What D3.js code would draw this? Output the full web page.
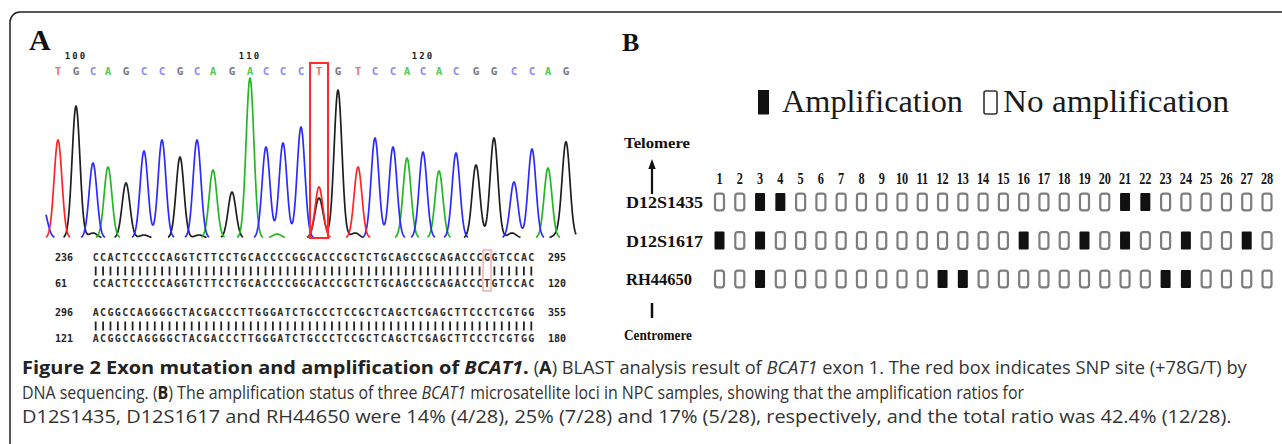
<!DOCTYPE html>
<html><head><meta charset="utf-8">
<script src="https://cdn.jsdelivr.net/npm/d3@7/dist/d3.min.js"></script>
<style>body{margin:0;background:#fff;} svg{display:block;} text{white-space:pre;}</style>
</head><body>
<svg id="c" width="1282" height="444"></svg>
<script>
// ---------- DATA ----------
// Panel A: chromatogram
const baseCalls = "TGCAGCCGCAGACCCTGTCCACACGGCCAG".split("");
const peakScan = [12,30,47,62,80,98,116,134,151,167,186,204,220,237,255,273,292,312,329,347,361,377,393,410,430,448,468,486,502,520];
const peakHeight = [98,132,75,71,55,87,98,81,98,68,46,160,91,95,111,51,148,71,100,91,80,86,67,85,73,100,56,89,70,96];
const minorBase = ["C","G","G","G","A","G","G","G","G"];
const minorScan = [-3,47,98,153,231,273,309,466,511];
const minorHeight = [30,5,3,3,4,40,5,5,3];
const positionTicks = ["100","110","120"];
const positionTickIndex = [1,11,21];
const snpIndex = 15;
// Panel A: BLAST alignment
const alignSeq = [
  "CCACTCCCCCAGGTCTTCCTGCACCCCGGCACCCGCTCTGCAGCCGCAGACCCGGTCCAC",
  "CCACTCCCCCAGGTCTTCCTGCACCCCGGCACCCGCTCTGCAGCCGCAGACCCTGTCCAC",
  "ACGGCCAGGGGCTACGACCCTTGGGATCTGCCCTCCGCTCAGCTCGAGCTTCCCTCGTGG",
  "ACGGCCAGGGGCTACGACCCTTGGGATCTGCCCTCCGCTCAGCTCGAGCTTCCCTCGTGG"
];
const alignStart = ["236","61","296","121"];
const alignEnd = ["295","120","355","180"];
const mismatchCol = 53;
// Panel B: amplification status
const samples = d3.range(1, 29);
const loci = ["D12S1435","D12S1617","RH44650"];
const ampD12S1435 = [3,4,21,22];
const ampD12S1617 = [1,3,16,19,21,24,27];
const ampRH44650 = [3,12,13,23,24];
const legendLabels = ["Amplification","No amplification"];
// Caption (each line split into runs)
const captionTitle = "<b>Figure 2 Exon mutation and amplification of </b><bi>BCAT1</bi><b>.</b>";
const captionLines = [
  " (<b>A</b>) BLAST analysis result of <i>BCAT1</i> exon 1. The red box indicates SNP site (+78G/T) by",
  "DNA sequencing. (<b>B</b>) The amplification status of three <i>BCAT1</i> microsatellite loci in NPC samples, showing that the amplification ratios for",
  "D12S1435, D12S1617 and RH44650 were 14% (4/28), 25% (7/28) and 17% (5/28), respectively, and the total ratio was 42.4% (12/28)."
];

// ---------- DRAW ----------
const svg = d3.select("#c");
const serif = "'Liberation Serif','Times New Roman',serif";
const mono = "'DejaVu Sans Mono','Liberation Mono',monospace";

// frame
svg.append("path").attr("d","M10,444 L10,22 A10,10 0 0 1 20,12 L1282,12")
  .attr("fill","none").attr("stroke","#222").attr("stroke-width",1.5);

// panel letters
svg.append("text").attr("x",29).attr("y",50).text("A")
  .style("font-family",serif).style("font-weight","bold").style("font-size","30px").attr("fill","#111");
svg.append("text").attr("x",622).attr("y",51).text("B")
  .style("font-family",serif).style("font-weight","bold").style("font-size","26px").attr("fill","#111");

// chromatogram scales
const xs = d3.scaleLinear().domain([0,530]).range([46,576]);
const ys = d3.scaleLinear().domain([0,170]).range([238,68]);
const baseColor = {A:"#22b822", C:"#2b2bff", G:"#1e1e1e", T:"#ff2424"};
const letterColor = {A:"#5cc85c", C:"#8c8cf2", G:"#7a7a7a", T:"#f07070"};
const sigma = 3.9;
const peaks = peakScan.map((s,i)=>({b:baseCalls[i], s, h:peakHeight[i], sg:sigma}))
  .concat(minorScan.map((s,i)=>({b:minorBase[i], s, h:minorHeight[i], sg:4.2})));
const scans = d3.range(0, 530.01, 0.5);
const line = d3.line().defined(d=>d[1]>0.6).x(d=>xs(d[0])).y(d=>ys(d[1]));
["G","A","C","T"].forEach(b=>{
  const pk = peaks.filter(p=>p.b===b);
  const pts = scans.map(s=>[s, d3.sum(pk, p=>p.h*Math.exp(-((s-p.s)**2)/(2*p.sg*p.sg)))]);
  svg.append("path").attr("d", line(pts)).attr("fill","none")
    .attr("stroke", baseColor[b]).attr("stroke-width",1.7).attr("stroke-linejoin","round");
});

// base call letters
svg.append("g").selectAll("text").data(baseCalls).join("text")
  .attr("x",(d,i)=>xs(peakScan[i])).attr("y",74.5).attr("text-anchor","middle")
  .attr("fill",d=>letterColor[d]).style("font-family",mono).style("font-weight","bold").style("font-size","11px")
  .text(d=>d);
// position numbers
svg.append("g").selectAll("text").data(positionTicks).join("text")
  .attr("x",(d,i)=>xs(peakScan[positionTickIndex[i]])).attr("y",59).attr("text-anchor","middle")
  .attr("fill","#222").style("font-family",mono).style("font-weight","bold").style("font-size","9px")
  .style("letter-spacing","2px").text(d=>d);
// SNP box
svg.append("rect").attr("x",xs(peakScan[snpIndex])-9).attr("y",63).attr("width",18).attr("height",ys(0)-63)
  .attr("fill","none").attr("stroke","#ff2a2a").attr("stroke-width",2);

// alignment
const ax = d3.scaleLinear().domain([0,60]).range([92,535]);
const rowY = [257,283,312,338];
const barY = [271,326];
const ag = svg.append("g");
alignSeq.forEach((seq,r)=>{
  ag.append("g").selectAll("text").data(seq.split("")).join("text")
    .attr("x",(d,i)=>ax(i+0.5)).attr("y",rowY[r]+3.5).attr("text-anchor","middle")
    .attr("fill","#2e2e2e").style("font-family",mono).style("font-weight","bold").style("font-size","10px")
    .text(d=>d);
  ag.append("text").attr("x",55).attr("y",rowY[r]+3.5).text(alignStart[r])
    .attr("fill","#222").style("font-family",mono).style("font-weight","bold").style("font-size","10px");
  ag.append("text").attr("x",548).attr("y",rowY[r]+3.5).text(alignEnd[r])
    .attr("fill","#222").style("font-family",mono).style("font-weight","bold").style("font-size","10px");
});
[0,1].forEach(k=>{
  const a = alignSeq[2*k], b = alignSeq[2*k+1];
  const cols = d3.range(60).filter(i=>a[i]===b[i]);
  ag.append("g").selectAll("rect").data(cols).join("rect")
    .attr("x",i=>ax(i+0.5)-0.9).attr("y",barY[k]-4.5).attr("width",1.8).attr("height",9).attr("fill","#222");
});
ag.append("rect").attr("x",ax(mismatchCol+0.5)-4).attr("y",250).attr("width",8).attr("height",41)
  .attr("fill","none").attr("stroke","#f09a9a").attr("stroke-width",1.2);

// ---------- Panel B ----------
const xb = d3.scalePoint().domain(samples).range([719.5,1267]);
const yb = d3.scalePoint().domain(loci).range([202,279]);
const ampMap = {D12S1435:ampD12S1435, D12S1617:ampD12S1617, RH44650:ampRH44650};

// legend
svg.append("rect").attr("x",758).attr("y",90).attr("width",11).attr("height",24.5).attr("fill","#111");
svg.append("text").attr("x",782).attr("y",112).text(legendLabels[0])
  .attr("textLength",181).attr("lengthAdjust","spacingAndGlyphs")
  .style("font-family",serif).style("font-size","31px").attr("fill","#1a1a1a");
svg.append("rect").attr("x",984).attr("y",91).attr("width",13).attr("height",23).attr("rx",2)
  .attr("fill","none").attr("stroke","#333").attr("stroke-width",1.6);
svg.append("text").attr("x",1003).attr("y",112).text(legendLabels[1])
  .attr("textLength",226).attr("lengthAdjust","spacingAndGlyphs")
  .style("font-family",serif).style("font-size","31px").attr("fill","#1a1a1a");

// sample numbers
svg.append("g").selectAll("text").data(samples).join("text")
  .attr("transform",d=>`translate(${xb(d)},184) scale(0.72,1)`).attr("text-anchor","middle")
  .style("font-family",serif).style("font-weight","bold").style("font-size","17px").attr("fill","#111")
  .text(d=>d);

// row labels
const labelW = {D12S1435:77, D12S1617:77, RH44650:66};
svg.append("g").selectAll("text").data(loci).join("text")
  .attr("x",626).attr("y",d=>yb(d)+6).text(d=>d)
  .attr("textLength",d=>labelW[d]).attr("lengthAdjust","spacingAndGlyphs")
  .style("font-family",serif).style("font-weight","bold").style("font-size","17px").attr("fill","#111");

// boxes
loci.forEach(l=>{
  const amp = ampMap[l];
  const g = svg.append("g");
  g.selectAll("rect").data(samples).join("rect")
    .attr("x",d=>xb(d)-(amp.includes(d)?5:4.5)).attr("y",d=>yb(l)-(amp.includes(d)?9:8.3))
    .attr("width",d=>amp.includes(d)?10:9).attr("height",d=>amp.includes(d)?18:16.6)
    .attr("rx",d=>amp.includes(d)?1:2.5)
    .attr("fill",d=>amp.includes(d)?"#111":"#fff")
    .attr("stroke",d=>amp.includes(d)?"none":"#7d7d7d").attr("stroke-width",2.2);
});

// telomere / centromere
svg.append("text").attr("x",624).attr("y",148).text("Telomere")
  .attr("textLength",66).attr("lengthAdjust","spacingAndGlyphs")
  .style("font-family",serif).style("font-weight","bold").style("font-size","15px").attr("fill","#111");
svg.append("line").attr("x1",652).attr("x2",652).attr("y1",167).attr("y2",194).attr("stroke","#111").attr("stroke-width",2.2);
svg.append("path").attr("d","M652,159 L648.3,169 L655.7,169 Z").attr("fill","#111");
svg.append("line").attr("x1",652).attr("x2",652).attr("y1",303).attr("y2",318).attr("stroke","#111").attr("stroke-width",2.5);
svg.append("text").attr("x",624).attr("y",340).text("Centromere")
  .attr("textLength",68).attr("lengthAdjust","spacingAndGlyphs")
  .style("font-family",serif).style("font-weight","bold").style("font-size","15px").attr("fill","#111");

// ---------- Caption ----------
const re = /<(bi|b|i)>(.*?)<\/\1>|([^<]+)/g;
function richText(str, x0, x1, y, size){
  const t = svg.append("text").attr("x",0).attr("y",0)
    .style("font-family","'Open Sans','Noto Sans',sans-serif").style("font-size",size+"px").attr("fill","#333");
  let m; re.lastIndex = 0;
  while((m = re.exec(str))){
    const tag = m[1], txt = m[1] ? m[2] : m[3];
    const ts = t.append("tspan").text(txt);
    if(tag==="b"||tag==="bi"){ ts.style("font-weight","bold").attr("fill","#222"); }
    if(tag==="i"||tag==="bi"){ ts.style("font-style","italic"); }
  }
  // keep a common condensed look: choose font size so that scale is ~0.82
  let w = t.node().getComputedTextLength();
  const target = x1 - x0;
  const fs = Math.max(16, Math.min(18.5, size * target / (w * 0.82)));
  t.style("font-size", fs + "px");
  w = t.node().getComputedTextLength();
  t.attr("transform",`translate(${x0},${y}) scale(${target/w},1)`);
}
richText(captionTitle, 22, 529, 374, 18);
richText(captionLines[0], 529, 1247, 374, 18);
richText(captionLines[1], 22, 1025, 399, 18);
richText(captionLines[2], 22, 1232, 423, 18);
</script>
</body></html>
